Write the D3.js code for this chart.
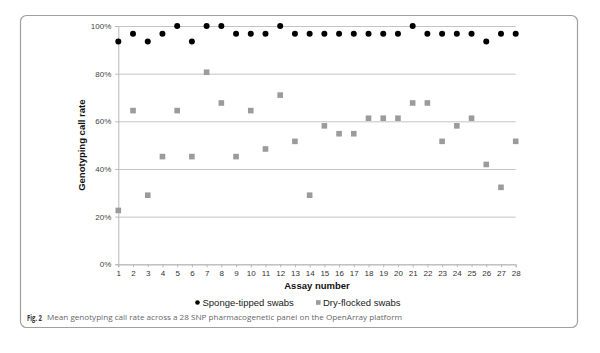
<!DOCTYPE html>
<html>
<head>
<meta charset="utf-8">
<script src="https://cdn.jsdelivr.net/npm/d3@7"></script>
<style>
  body { margin: 0; background: #fff; }
  svg { display: block; }
</style>
</head>
<body>
<div id="chart"></div>
<script>
// data (call rate in %)
var assays = d3.range(1, 29);
var spongeRates = [93.5, 96.8, 93.5, 96.8, 100, 93.5, 100, 100, 96.8, 96.8,
                   96.8, 100, 96.8, 96.8, 96.8, 96.8, 96.8, 96.8, 96.8, 96.8,
                   100, 96.8, 96.8, 96.8, 96.8, 93.5, 96.8, 96.8];
var flockedRates = [22.6, 64.5, 29.0, 45.2, 64.5, 45.2, 80.6, 67.7, 45.2, 64.5,
                    48.4, 71.0, 51.6, 29.0, 58.1, 54.8, 54.8, 61.3, 61.3, 61.3,
                    67.7, 67.7, 51.6, 58.1, 61.3, 41.9, 32.3, 51.6];
var yTicks = [0, 20, 40, 60, 80, 100];

var W = 600, H = 353;
var svg = d3.select("#chart").append("svg")
    .attr("width", W)
    .attr("height", H);

// figure frame
svg.append("rect")
    .attr("x", 20.5).attr("y", 15.5)
    .attr("width", 557).attr("height", 312)
    .attr("rx", 6).attr("ry", 6)
    .attr("fill", "none")
    .attr("stroke", "#a0a0a0")
    .attr("stroke-width", 1.2);

var x = d3.scaleLinear().domain([1, 28]).range([118.3, 515.7]);
var y = d3.scaleLinear().domain([0, 100]).range([264.3, 26]);

// gridlines
svg.append("g")
    .attr("transform", "translate(" + x.range()[0] + ",0)")
    .call(d3.axisLeft(y).tickValues(yTicks).tickSize(-(x.range()[1] - x.range()[0])).tickFormat(""))
    .call(function(g) {
      g.select(".domain").remove();
      g.selectAll("line").attr("stroke", "#c4c4c4").attr("stroke-width", 1);
    });

// y axis
var yAxis = svg.append("g")
    .attr("transform", "translate(" + x.range()[0] + ",0)")
    .call(d3.axisLeft(y).tickValues(yTicks).tickSize(3).tickPadding(4)
      .tickFormat(function(d) { return d + "%"; }));
yAxis.select(".domain").attr("stroke", "#b8b8b8");
yAxis.selectAll("line").attr("stroke", "#b8b8b8");
yAxis.selectAll("text")
    .style("font-family", "Liberation Sans, Arial, sans-serif")
    .style("font-size", "8px")
    .attr("fill", "#444");

// x axis
var xAxis = svg.append("g")
    .attr("transform", "translate(0," + y(0) + ")")
    .call(d3.axisBottom(x).tickValues(assays).tickSize(3).tickPadding(3)
      .tickFormat(d3.format("d")));
xAxis.select(".domain").attr("stroke", "#b8b8b8");
xAxis.selectAll("line").attr("stroke", "#b8b8b8");
xAxis.selectAll("text")
    .style("font-family", "Liberation Sans, Arial, sans-serif")
    .style("font-size", "8px")
    .attr("fill", "#333");

// axis titles
svg.append("text")
    .attr("transform", "translate(85," + ((y(0) + y(100)) / 2) + ")rotate(-90)")
    .attr("text-anchor", "middle")
    .style("font-family", "Liberation Sans, Arial, sans-serif")
    .style("font-size", "9.5px")
    .style("font-weight", "bold")
    .attr("fill", "#111")
    .text("Genotyping call rate");

svg.append("text")
    .attr("x", 317)
    .attr("y", 289)
    .attr("text-anchor", "middle")
    .style("font-family", "Liberation Sans, Arial, sans-serif")
    .style("font-size", "9.5px")
    .style("font-weight", "bold")
    .attr("fill", "#111")
    .text("Assay number");

// dry-flocked squares
var sq = 5.6;
svg.append("g").selectAll("rect")
    .data(flockedRates)
    .enter()
    .append("rect")
      .attr("x", function(d, i) { return x(assays[i]) - sq / 2; })
      .attr("y", function(d) { return y(d) - sq / 2; })
      .attr("width", sq)
      .attr("height", sq)
      .attr("fill", "#9b9b9b");

// sponge-tipped circles
svg.append("g").selectAll("circle")
    .data(spongeRates)
    .enter()
    .append("circle")
      .attr("cx", function(d, i) { return x(assays[i]); })
      .attr("cy", function(d) { return y(d); })
      .attr("r", 3)
      .attr("fill", "#000");

// legend
var legend = svg.append("g").style("font-family", "Liberation Sans, Arial, sans-serif")
    .style("font-size", "9.5px");
legend.append("circle").attr("cx", 197.5).attr("cy", 302.5).attr("r", 2.3).attr("fill", "#000");
legend.append("text").attr("x", 202.5).attr("y", 306).attr("fill", "#222").text("Sponge-tipped swabs");
legend.append("rect").attr("x", 316).attr("y", 300.2).attr("width", 4.6).attr("height", 4.6).attr("fill", "#9b9b9b");
legend.append("text").attr("x", 323).attr("y", 306).attr("fill", "#222").text("Dry-flocked swabs");

// caption
var capFont = "Open Sans, Noto Sans, sans-serif";
svg.append("text")
    .attr("x", 27)
    .attr("y", 320.5)
    .style("font-family", capFont)
    .style("font-size", "8.6px")
    .style("font-weight", "bold")
    .attr("fill", "#333")
    .attr("textLength", 15)
    .attr("lengthAdjust", "spacingAndGlyphs")
    .text("Fig. 2");
svg.append("text")
    .attr("x", 47)
    .attr("y", 320)
    .style("font-family", capFont)
    .style("font-size", "7.6px")
    .attr("fill", "#666")
    .attr("textLength", 355)
    .attr("lengthAdjust", "spacingAndGlyphs")
    .text("Mean genotyping call rate across a 28 SNP pharmacogenetic panel on the OpenArray platform");
</script>
</body>
</html>
